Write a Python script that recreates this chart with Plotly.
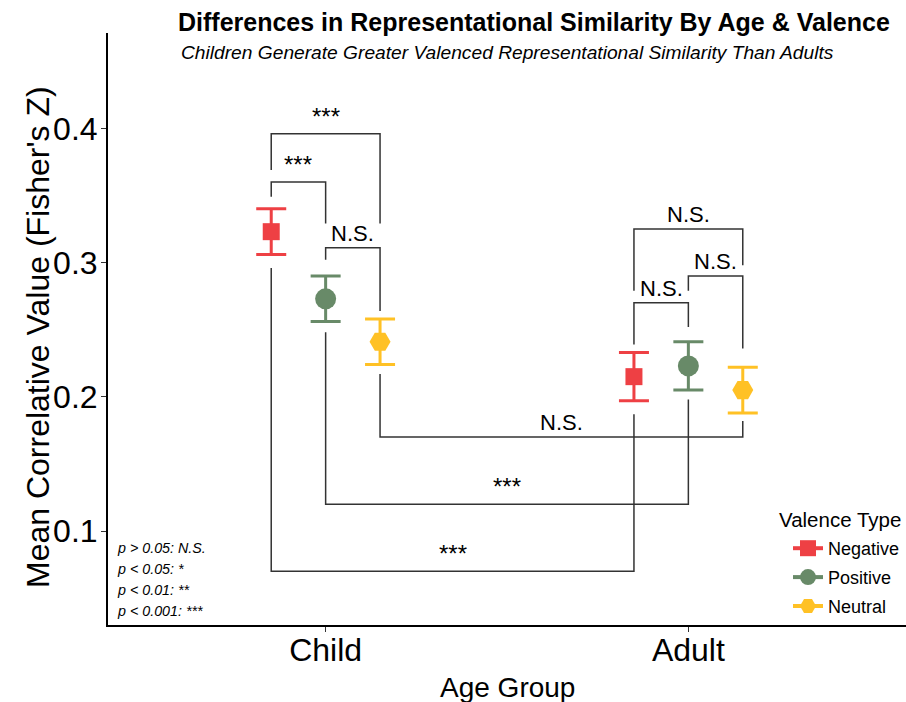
import plotly.graph_objects as go

# ---------------- data ----------------
age_groups = ["Child", "Adult"]
valence_types = ["Negative", "Positive", "Neutral"]

mean_negative = [0.323, 0.215]
mean_positive = [0.273, 0.223]
mean_neutral = [0.241, 0.205]

se_negative = [0.017, 0.018]
se_positive = [0.017, 0.018]
se_neutral = [0.017, 0.017]

valence_colors = ["#EE4044", "#688A68", "#FFC125"]
valence_symbols = ["square", "circle", "hexagon2"]
valence_sizes = [17, 21, 21]

# significance brackets (pairs of group-valence cells)
bracket_start = ["Child-Negative", "Child-Negative", "Child-Positive",
                 "Adult-Negative", "Adult-Positive", "Adult-Negative",
                 "Child-Neutral", "Child-Positive", "Child-Negative"]
bracket_end = ["Child-Neutral", "Child-Positive", "Child-Neutral",
               "Adult-Neutral", "Adult-Neutral", "Adult-Positive",
               "Adult-Neutral", "Adult-Positive", "Adult-Negative"]
bracket_y = [0.396, 0.360, 0.311, 0.325, 0.290, 0.270, 0.170, 0.120, 0.070]
bracket_tip_start = [0.369, 0.349, 0.302, 0.279, 0.279, 0.239, 0.217, 0.248, 0.296]
bracket_tip_end = [0.329, 0.329, 0.264, 0.298, 0.236, 0.252, 0.182, 0.198, 0.187]
bracket_labels = ["***", "***", "N.S.", "N.S.", "N.S.", "N.S.", "N.S.", "***", "***"]

p_legend = ["p > 0.05: N.S.", "p < 0.05: *", "p < 0.01: **", "p < 0.001: ***"]

y_ticks = [0.1, 0.2, 0.3, 0.4]

# ---------------- helpers ----------------
DODGE = 0.15
means = [mean_negative, mean_positive, mean_neutral]
ses = [se_negative, se_positive, se_neutral]


def xpos(cell):
    g, v = cell.split("-")
    return age_groups.index(g) + 1 + (valence_types.index(v) - 1) * DODGE


FONT = "Liberation Sans, Arial, sans-serif"

fig = go.Figure()

# brackets
for s, e, yv, t1, t2, lab in zip(bracket_start, bracket_end, bracket_y,
                                 bracket_tip_start, bracket_tip_end, bracket_labels):
    x1, x2 = xpos(s), xpos(e)
    fig.add_trace(go.Scatter(
        x=[x1, x1, x2, x2], y=[t1, yv, yv, t2], mode="lines",
        line=dict(color="#333333", width=1.5), showlegend=False, hoverinfo="skip"))
    star = lab.startswith("*")
    fig.add_annotation(x=(x1 + x2) / 2, y=yv, xref="x", yref="y", text=lab,
                       showarrow=False, yanchor="bottom", yshift=2 if star else 0,
                       font=dict(family=FONT, size=24 if star else 22, color="black"))

# points with error bars
for i, v in enumerate(valence_types):
    xs = [xpos(f"{g}-{v}") for g in age_groups]
    fig.add_trace(go.Scatter(
        x=xs, y=means[i], mode="markers",
        marker=dict(symbol=valence_symbols[i], size=valence_sizes[i],
                    color=valence_colors[i], line=dict(width=0)),
        error_y=dict(type="data", array=ses[i], visible=True,
                     color=valence_colors[i], thickness=3, width=15),
        showlegend=False, name=v))

# legend entries
for i, v in enumerate(valence_types):
    fig.add_trace(go.Scatter(
        x=[None], y=[None], mode="lines+markers", name=v, legendgroup=v,
        line=dict(color=valence_colors[i], width=4),
        marker=dict(symbol=valence_symbols[i], size=valence_sizes[i],
                    color=valence_colors[i])))

# legend title
fig.add_annotation(x=(777 - 108) / 798, y=(625 - 519) / 592, xref="paper", yref="paper",
                   text="Valence Type", showarrow=False, xanchor="left", yanchor="middle",
                   font=dict(family=FONT, size=20.5, color="black"))

# p-value key
for k, t in enumerate(p_legend):
    fig.add_annotation(x=0.009, y=0.130 - k * 0.0352, xref="paper", yref="paper",
                       text=f"<i>{t}</i>", showarrow=False, xanchor="left",
                       yanchor="middle",
                       font=dict(family=FONT, size=14.3, color="black"))

# titles
fig.add_annotation(x=(534 - 108) / 798, y=1, xref="paper", yref="paper", yshift=11,
                   text="<b>Differences in Representational Similarity By Age &amp; Valence</b>",
                   showarrow=False, yanchor="middle",
                   font=dict(family=FONT, size=25, color="black"))
fig.add_annotation(x=0.5, y=1, xref="paper", yref="paper", yshift=-19,
                   text="<i>Children Generate Greater Valenced Representational Similarity Than Adults</i>",
                   showarrow=False, yanchor="middle",
                   font=dict(family=FONT, size=19.2, color="black"))

# axis titles
fig.add_annotation(x=(38 - 108) / 798, y=0.5 - 8 / 592, xref="paper", yref="paper",
                   text="Mean Correlative Value (Fisher's Z)", textangle=-90,
                   showarrow=False, xanchor="center", yanchor="middle",
                   font=dict(family=FONT, size=32, color="black"))
fig.add_annotation(x=0.5, y=(625 - 687) / 592, xref="paper", yref="paper",
                   text="Age Group", showarrow=False, xanchor="center", yanchor="middle",
                   font=dict(family=FONT, size=28, color="black"))

fig.update_layout(
    width=906, height=702,
    margin=dict(l=108, r=0, t=33, b=77),
    paper_bgcolor="white", plot_bgcolor="white",
    font=dict(family=FONT, color="black"),
    xaxis=dict(range=[0.4, 2.6], tickvals=[1, 2], ticktext=age_groups,
               showgrid=False, zeroline=False, showline=True, linecolor="black",
               linewidth=2, ticks="outside", ticklen=5, tickcolor="#333333",
               ticklabelstandoff=-9,
               tickfont=dict(size=32, family=FONT, color="black"),
               automargin=False),
    yaxis=dict(range=[0.03, 0.471], tickvals=y_ticks, ticktext=[f"{t:.1f}" for t in y_ticks],
               showgrid=False, zeroline=False, showline=True, linecolor="black",
               linewidth=2, ticks="outside", ticklen=5, tickcolor="#333333",
               ticklabelstandoff=-3,
               tickfont=dict(size=32, family=FONT, color="black"),
               automargin=False),
    legend=dict(x=(788 - 108) / 798, y=(625 - 530) / 592, xanchor="left", yanchor="top",
                bgcolor="rgba(0,0,0,0)", tracegroupgap=2.5,
                font=dict(size=18, family=FONT)),
)

fig.write_html("out.html", config={"displayModeBar": False},
               post_script="document.body.style.margin='0';")
